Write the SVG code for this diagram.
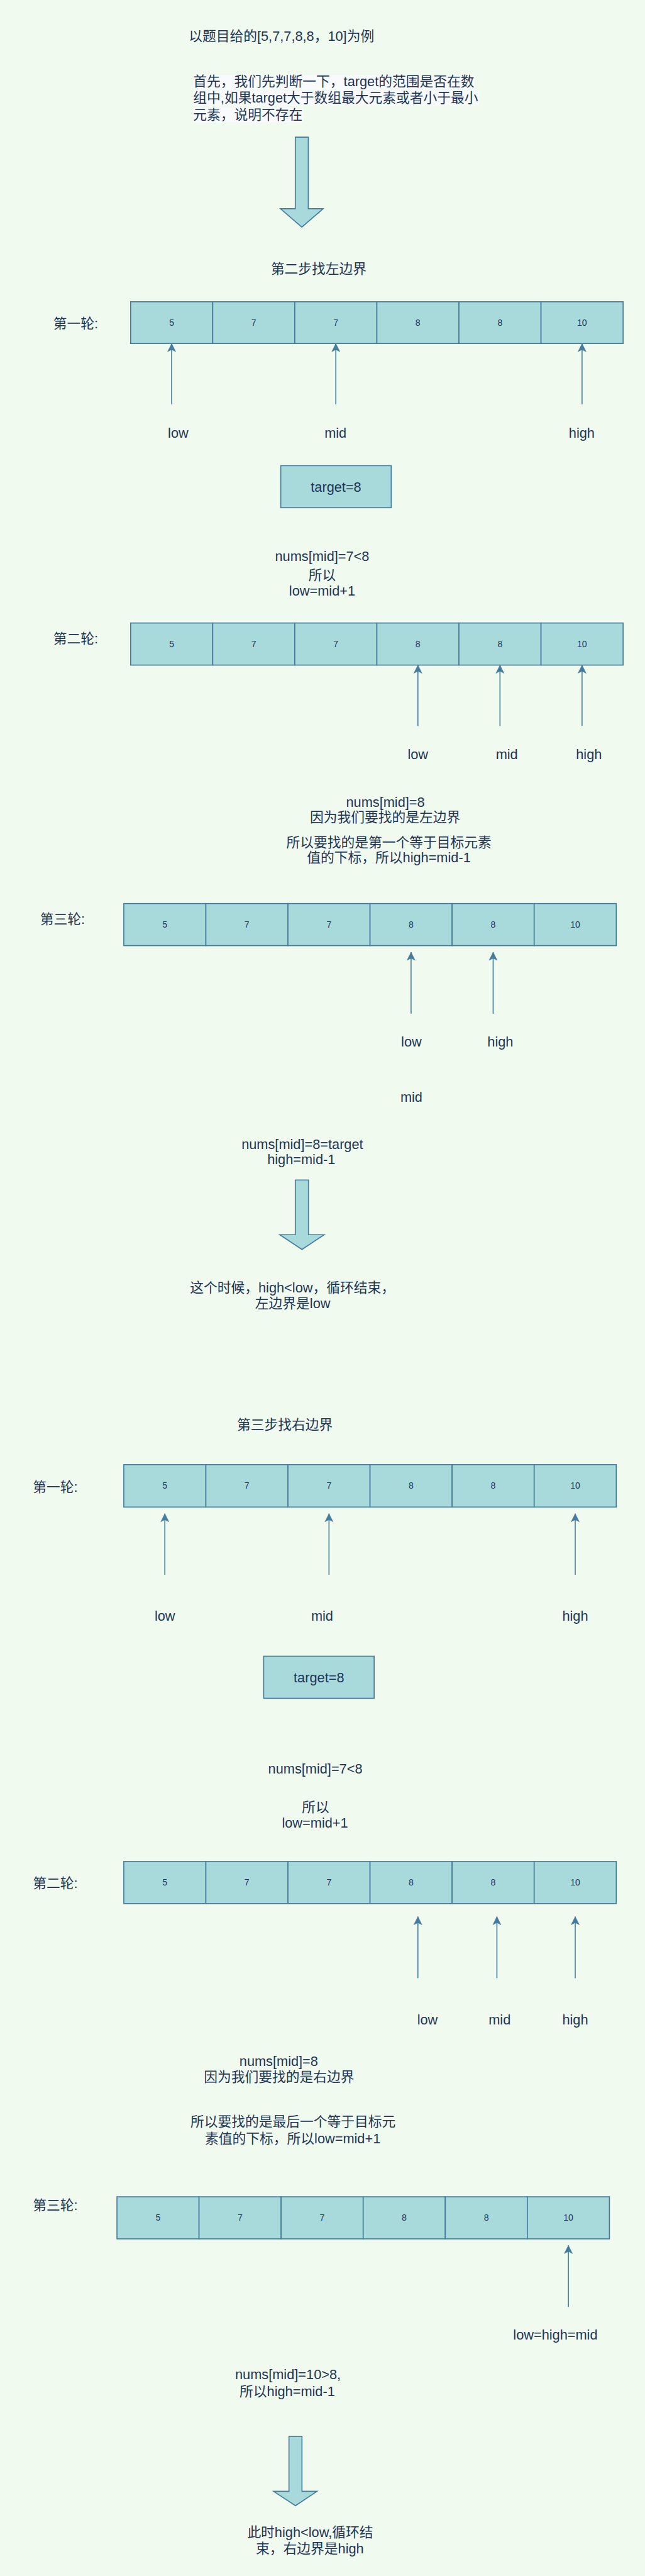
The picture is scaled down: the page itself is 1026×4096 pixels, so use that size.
<svg xmlns="http://www.w3.org/2000/svg" width="1026" height="4096" viewBox="0 0 1026 4096">
<defs>
<style>
.t{font-family:"Liberation Sans","Noto Sans CJK SC",sans-serif;font-size:40px;fill:#1D3557}
.c{text-anchor:middle}
.num{font-family:"Liberation Sans","Noto Sans CJK SC",sans-serif;font-size:26px;fill:#1D3557;text-anchor:middle}
.cell{fill:#A8DADC;stroke:#457B9D;stroke-width:3}
.blk{fill:#A8DADC;stroke:#457B9D;stroke-width:3;stroke-linejoin:miter}
.conn{fill:none;stroke:#457B9D;stroke-width:3;marker-end:url(#ah)}
.hl{fill:#F8FAFB}
</style>
<marker id="ah" markerUnits="userSpaceOnUse" viewBox="-26 -14 28 28" refX="0" refY="0" markerWidth="28" markerHeight="28" orient="auto">
<path d="M0 0 L-24 -12 L-18 0 L-24 12 Z" fill="#457B9D" stroke="#457B9D" stroke-width="1"/>
</marker>
</defs>
<rect width="1026" height="4096" fill="#F1FAEE"/>
<g transform="scale(0.544)">

<g id="title"><text class="t c" x="823" y="120">以题目给的[5,7,7,8,8，10]为例</text></g>

<g id="intro">
<rect class="hl" x="565" y="219" width="823" height="43"/>
<rect class="hl" x="565" y="265" width="835" height="44"/>
<rect class="hl" x="565" y="315" width="322" height="43"/>
<text class="t" x="565" y="252">首先，我们先判断一下，target的范围是否在数</text>
<text class="t" x="565" y="300">组中,如果target大于数组最大元素或者小于最小</text>
<text class="t" x="565" y="349">元素，说明不存在</text>
</g>

<g id="bigArrow1"><path class="blk" d="M863.5 401 H901.5 V610 H945 L882.5 664 L820 610 H863.5 Z"/></g>

<g id="step2"><text class="t c" x="932" y="800">第二步找左边界</text></g>

<g id="round1L">
<text class="t" x="156" y="960">第一轮:</text>
<rect class="cell" x="382" y="882" width="240" height="122"/>
<rect class="cell" x="622" y="882" width="240" height="122"/>
<rect class="cell" x="862" y="882" width="240" height="122"/>
<rect class="cell" x="1102" y="882" width="240" height="122"/>
<rect class="cell" x="1342" y="882" width="240" height="122"/>
<rect class="cell" x="1582" y="882" width="240" height="122"/>
<text class="num" x="502" y="952">5</text>
<text class="num" x="742" y="952">7</text>
<text class="num" x="982" y="952">7</text>
<text class="num" x="1222" y="952">8</text>
<text class="num" x="1462" y="952">8</text>
<text class="num" x="1702" y="952">10</text>
</g>
<g id="labels1L">
<text class="t c" x="521" y="1279">low</text>
<text class="t c" x="981" y="1279">mid</text>
<text class="t c" x="1701" y="1279">high</text>
</g>

<g id="target1">
<rect class="cell" x="821" y="1361" width="323" height="123"/>
<text class="t c" x="982.5" y="1437">target=8</text>
</g>

<g id="note1L">
<text class="t c" x="942" y="1639">nums[mid]=7&lt;8</text>
<text class="t c" x="942" y="1695">所以</text>
<text class="t c" x="942" y="1741">low=mid+1</text>
</g>

<g id="round2L">
<text class="t" x="156" y="1880">第二轮:</text>
<rect class="cell" x="382" y="1821" width="240" height="123"/>
<rect class="cell" x="622" y="1821" width="240" height="123"/>
<rect class="cell" x="862" y="1821" width="240" height="123"/>
<rect class="cell" x="1102" y="1821" width="240" height="123"/>
<rect class="cell" x="1342" y="1821" width="240" height="123"/>
<rect class="cell" x="1582" y="1821" width="240" height="123"/>
<text class="num" x="502" y="1891">5</text>
<text class="num" x="742" y="1891">7</text>
<text class="num" x="982" y="1891">7</text>
<text class="num" x="1222" y="1891">8</text>
<text class="num" x="1462" y="1891">8</text>
<text class="num" x="1702" y="1891">10</text>
</g>
<g id="labels2L">
<text class="t c" x="1222" y="2218">low</text>
<text class="t c" x="1482" y="2218">mid</text>
<text class="t c" x="1722" y="2218">high</text>
</g>

<g id="note2L">
<text class="t c" x="1127" y="2359">nums[mid]=8</text>
<text class="t c" x="1126" y="2403">因为我们要找的是左边界</text>
<text class="t c" x="1137" y="2476">所以要找的是第一个等于目标元素</text>
<text class="t c" x="1137" y="2521">值的下标，所以high=mid-1</text>
</g>

<g id="round3L">
<text class="t" x="117" y="2700">第三轮:</text>
<rect class="cell" x="362" y="2641" width="240" height="123"/>
<rect class="cell" x="602" y="2641" width="240" height="123"/>
<rect class="cell" x="842" y="2641" width="240" height="123"/>
<rect class="cell" x="1082" y="2641" width="240" height="123"/>
<rect class="cell" x="1322" y="2641" width="240" height="123"/>
<rect class="cell" x="1562" y="2641" width="240" height="123"/>
<text class="num" x="482" y="2711">5</text>
<text class="num" x="722" y="2711">7</text>
<text class="num" x="962" y="2711">7</text>
<text class="num" x="1202" y="2711">8</text>
<text class="num" x="1442" y="2711">8</text>
<text class="num" x="1682" y="2711">10</text>
</g>
<g id="labels3L">
<text class="t c" x="1203" y="3058">low</text>
<text class="t c" x="1463" y="3058">high</text>
<text class="t c" x="1203" y="3221">mid</text>
</g>

<g id="note3L">
<text class="t c" x="884" y="3358">nums[mid]=8=target</text>
<text class="t c" x="881" y="3402">high=mid-1</text>
</g>

<g id="bigArrow2"><path class="blk" d="M863.5 3449 H902 V3609 H948 L883 3652 L818 3609 H863.5 Z"/></g>

<g id="resultL">
<text class="t c" x="855" y="3777">这个时候，high&lt;low，循环结束，</text>
<text class="t c" x="856" y="3823">左边界是low</text>
</g>

<g id="step3"><text class="t c" x="833" y="4179">第三步找右边界</text></g>

<g id="round1R">
<text class="t" x="96" y="4360">第一轮:</text>
<rect class="cell" x="362" y="4281" width="240" height="124"/>
<rect class="cell" x="602" y="4281" width="240" height="124"/>
<rect class="cell" x="842" y="4281" width="240" height="124"/>
<rect class="cell" x="1082" y="4281" width="240" height="124"/>
<rect class="cell" x="1322" y="4281" width="240" height="124"/>
<rect class="cell" x="1562" y="4281" width="240" height="124"/>
<text class="num" x="482" y="4352">5</text>
<text class="num" x="722" y="4352">7</text>
<text class="num" x="962" y="4352">7</text>
<text class="num" x="1202" y="4352">8</text>
<text class="num" x="1442" y="4352">8</text>
<text class="num" x="1682" y="4352">10</text>
</g>
<g id="labels1R">
<text class="t c" x="482" y="4738">low</text>
<text class="t c" x="942" y="4738">mid</text>
<text class="t c" x="1682" y="4738">high</text>
</g>

<g id="target2">
<rect class="cell" x="771" y="4841" width="323" height="123"/>
<text class="t c" x="932.5" y="4917">target=8</text>
</g>

<g id="note1R">
<text class="t c" x="922" y="5184">nums[mid]=7&lt;8</text>
<text class="t c" x="923" y="5296">所以</text>
<text class="t c" x="921" y="5342">low=mid+1</text>
</g>

<g id="round2R">
<text class="t" x="96" y="5519">第二轮:</text>
<rect class="cell" x="362" y="5441" width="240" height="123"/>
<rect class="cell" x="602" y="5441" width="240" height="123"/>
<rect class="cell" x="842" y="5441" width="240" height="123"/>
<rect class="cell" x="1082" y="5441" width="240" height="123"/>
<rect class="cell" x="1322" y="5441" width="240" height="123"/>
<rect class="cell" x="1562" y="5441" width="240" height="123"/>
<text class="num" x="482" y="5511">5</text>
<text class="num" x="722" y="5511">7</text>
<text class="num" x="962" y="5511">7</text>
<text class="num" x="1202" y="5511">8</text>
<text class="num" x="1442" y="5511">8</text>
<text class="num" x="1682" y="5511">10</text>
</g>
<g id="labels2R">
<text class="t c" x="1250" y="5918">low</text>
<text class="t c" x="1461" y="5918">mid</text>
<text class="t c" x="1682" y="5918">high</text>
</g>

<g id="note2R">
<text class="t c" x="815" y="6038">nums[mid]=8</text>
<text class="t c" x="816" y="6085">因为我们要找的是右边界</text>
<text class="t c" x="857" y="6215">所以要找的是最后一个等于目标元</text>
<text class="t c" x="856" y="6264">素值的下标，所以low=mid+1</text>
</g>

<g id="round3R">
<text class="t" x="96" y="6459">第三轮:</text>
<rect class="cell" x="342" y="6421" width="240" height="123"/>
<rect class="cell" x="582" y="6421" width="240" height="123"/>
<rect class="cell" x="822" y="6421" width="240" height="123"/>
<rect class="cell" x="1062" y="6421" width="240" height="123"/>
<rect class="cell" x="1302" y="6421" width="240" height="123"/>
<rect class="cell" x="1542" y="6421" width="240" height="123"/>
<text class="num" x="462" y="6491">5</text>
<text class="num" x="702" y="6491">7</text>
<text class="num" x="942" y="6491">7</text>
<text class="num" x="1182" y="6491">8</text>
<text class="num" x="1422" y="6491">8</text>
<text class="num" x="1662" y="6491">10</text>
</g>
<g id="labels3R">
<text class="t c" x="1624" y="6839">low=high=mid</text>
</g>

<g id="note3R">
<text class="t c" x="842" y="6954">nums[mid]=10&gt;8,</text>
<text class="t c" x="840" y="7004">所以high=mid-1</text>
</g>

<g id="bigArrow3"><path class="blk" d="M845 7121 H883 V7282 H927 L864 7324 L800 7282 H845 Z"/></g>

<g id="resultR">
<text class="t c" x="907" y="7415">此时high&lt;low,循环结</text>
<text class="t c" x="906" y="7463">束，右边界是high</text>
</g>

<g id="connectors">
<path class="conn" d="M502 1182 V1004"/>
<path class="conn" d="M982 1182 V1004"/>
<path class="conn" d="M1702 1182 V1004"/>
<path class="conn" d="M1222 2122 V1944"/>
<path class="conn" d="M1462 2122 V1944"/>
<path class="conn" d="M1702 2122 V1944"/>
<path class="conn" d="M1202 2963 V2783"/>
<path class="conn" d="M1442 2963 V2783"/>
<path class="conn" d="M482 4603 V4424"/>
<path class="conn" d="M962 4603 V4424"/>
<path class="conn" d="M1682 4603 V4424"/>
<path class="conn" d="M1222 5782 V5602"/>
<path class="conn" d="M1453 5782 V5602"/>
<path class="conn" d="M1682 5782 V5602"/>
<path class="conn" d="M1662 6743 V6563"/>
</g>
</g>
</svg>
